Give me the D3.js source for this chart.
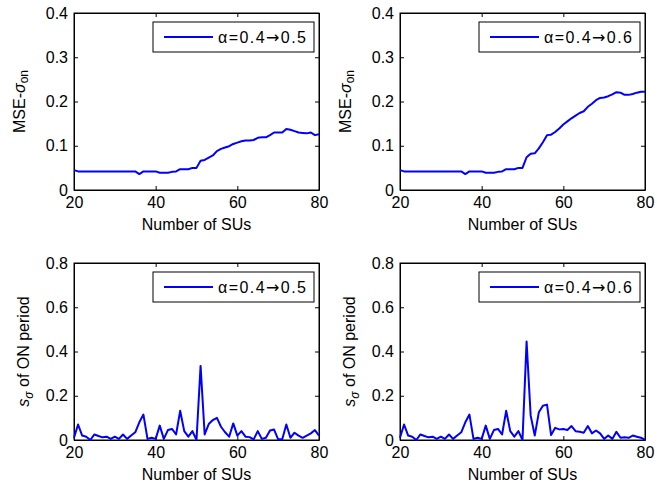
<!DOCTYPE html>
<html>
<head>
<meta charset="utf-8">
<script src="https://cdn.jsdelivr.net/npm/d3@7"></script>
<style>
  body { margin: 0; background: #fff; }
  text { font-family: "Liberation Sans", Arial, sans-serif; fill: #000; }
</style>
</head>
<body>
<div id="chart"></div>
<script>
// Number of SUs (x values)
const suCount = [20,21,22,23,24,25,26,27,28,29,30,31,32,33,34,35,36,37,38,39,40,
  41,42,43,44,45,46,47,48,49,50,51,52,53,54,55,56,57,58,59,60,
  61,62,63,64,65,66,67,68,69,70,71,72,73,74,75,76,77,78,79,80];

// MSE of sigma_on, alpha 0.4 -> 0.5
const mseA = [0.045,0.042,0.042,0.042,0.042,0.042,0.042,0.042,0.042,0.042,0.042,
  0.042,0.042,0.042,0.042,0.042,0.036,0.042,0.042,0.042,0.042,
  0.039,0.039,0.039,0.041,0.042,0.047,0.047,0.047,0.050,0.050,
  0.066,0.068,0.073,0.078,0.088,0.093,0.096,0.099,0.104,0.107,
  0.110,0.112,0.112,0.113,0.118,0.119,0.119,0.124,0.130,0.130,
  0.130,0.138,0.136,0.133,0.130,0.129,0.128,0.130,0.124,0.126];

// MSE of sigma_on, alpha 0.4 -> 0.6
const mseB = [0.045,0.042,0.042,0.042,0.042,0.042,0.042,0.042,0.042,0.042,0.042,
  0.042,0.042,0.042,0.042,0.042,0.036,0.042,0.042,0.042,0.042,
  0.039,0.039,0.039,0.041,0.042,0.047,0.047,0.047,0.050,0.050,
  0.074,0.082,0.083,0.094,0.108,0.124,0.125,0.131,0.139,0.148,
  0.155,0.162,0.168,0.174,0.178,0.188,0.195,0.203,0.208,0.209,
  0.212,0.216,0.221,0.220,0.215,0.215,0.217,0.220,0.222,0.222];

// s_sigma of ON period, alpha 0.4 -> 0.5
const sdA = [0.010,0.070,0.020,0.015,0.000,0.025,0.018,0.012,0.015,0.005,0.015,
  0.005,0.025,0.005,0.020,0.035,0.080,0.115,0.005,0.010,0.005,
  0.065,0.005,0.045,0.050,0.025,0.132,0.040,0.015,0.040,0.000,
  0.335,0.025,0.072,0.090,0.100,0.060,0.035,0.015,0.075,0.020,
  0.040,0.015,0.013,0.003,0.040,0.005,0.010,0.043,0.047,0.003,
  0.003,0.070,0.010,0.033,0.020,0.010,0.020,0.030,0.045,0.020];

// s_sigma of ON period, alpha 0.4 -> 0.6
const sdB = [0.010,0.070,0.020,0.015,0.000,0.025,0.018,0.012,0.015,0.005,0.015,
  0.005,0.025,0.005,0.020,0.035,0.080,0.115,0.005,0.010,0.005,
  0.065,0.005,0.045,0.050,0.025,0.132,0.040,0.015,0.040,0.000,
  0.445,0.110,0.020,0.125,0.155,0.160,0.022,0.055,0.048,0.050,
  0.045,0.063,0.040,0.037,0.033,0.063,0.030,0.043,0.030,0.005,
  0.020,0.005,0.037,0.010,0.012,0.010,0.020,0.015,0.010,0.002];

const xTicks = [20, 40, 60, 80];
const mseTicks = [0, 0.1, 0.2, 0.3, 0.4];
const sdTicks = [0, 0.2, 0.4, 0.6, 0.8];

// legend entries: [from, to]
const legendA = ["0.4", "0.5"];
const legendB = ["0.4", "0.6"];

const W = 657, H = 488;
const pw = 245, ph = 177;

const svg = d3.select("#chart")
  .append("svg")
    .attr("width", W)
    .attr("height", H);

const fmt = d => d === 0 ? "0" : d3.format(".1f")(d);

function panel(left, top, values, yMax, yTicks, legend, yLabel, yLabelX) {
  const g = svg.append("g").attr("transform", `translate(${left},${top})`);

  const x = d3.scaleLinear().domain([20, 80]).range([0, pw]);
  const y = d3.scaleLinear().domain([0, yMax]).range([ph, 0]);

  // bottom axis
  g.append("g")
    .attr("transform", `translate(0,${ph})`)
    .call(d3.axisBottom(x).tickValues(xTicks).tickFormat(d3.format("d"))
      .tickSizeInner(-4).tickSizeOuter(0).tickPadding(7));
  // top axis (ticks only)
  g.append("g")
    .call(d3.axisTop(x).tickValues(xTicks).tickFormat("")
      .tickSizeInner(-4).tickSizeOuter(0));
  // left axis
  g.append("g")
    .call(d3.axisLeft(y).tickValues(yTicks).tickFormat(fmt)
      .tickSizeInner(-4).tickSizeOuter(0).tickPadding(6));
  // right axis (ticks only)
  g.append("g")
    .attr("transform", `translate(${pw},0)`)
    .call(d3.axisRight(y).tickValues(yTicks).tickFormat("")
      .tickSizeInner(-4).tickSizeOuter(0));

  g.selectAll(".tick text")
    .style("font-size", "16px")
    .style("font-family", "'Liberation Sans', Arial, sans-serif");
  g.selectAll(".domain, .tick line").attr("stroke", "#000");

  g.append("rect")
    .attr("width", pw).attr("height", ph)
    .attr("fill", "none").attr("stroke", "#000").attr("stroke-width", 1);

  // data line
  g.append("path")
    .datum(values)
    .attr("fill", "none")
    .attr("stroke", "#0000ff")
    .attr("stroke-width", 2)
    .attr("stroke-linejoin", "round")
    .attr("d", d3.line().x((d, i) => x(suCount[i])).y(d => y(d)));

  // legend
  const lg = g.append("g").attr("transform", "translate(79,9)");
  lg.append("rect")
    .attr("width", 161).attr("height", 30)
    .attr("fill", "#fff").attr("stroke", "#000");
  lg.append("line")
    .attr("x1", 11).attr("x2", 60).attr("y1", 15).attr("y2", 15)
    .attr("stroke", "#0000ff").attr("stroke-width", 2);
  const lt = lg.append("text")
    .attr("x", 65).attr("y", 21)
    .attr("textLength", 88).attr("lengthAdjust", "spacing")
    .style("font-size", "16px");
  lt.append("tspan").text("α=" + legend[0]);
  lt.append("tspan").style("font-family", "'DejaVu Sans', sans-serif")
    .style("font-size", "16px").text("→");
  lt.append("tspan").text(legend[1]);

  // x label
  g.append("text")
    .attr("x", pw / 2).attr("y", ph + 40)
    .attr("text-anchor", "middle")
    .style("font-size", "16px")
    .text("Number of SUs");

  // y label
  const yl = g.append("text")
    .attr("transform", `translate(${yLabelX},${ph / 2}) rotate(-90)`)
    .attr("text-anchor", "middle")
    .style("font-size", "16px");
  yLabel(yl);
}

const mseLabel = t => {
  t.append("tspan").text("MSE-");
  t.append("tspan").style("font-style", "italic").text("σ");
  t.append("tspan").attr("baseline-shift", "-25%").style("font-size", "12px").text("on");
};
const sdLabel = t => {
  t.append("tspan").style("font-style", "italic").text("s");
  t.append("tspan").attr("baseline-shift", "-30%").style("font-size", "12px")
    .style("font-style", "italic").text("σ");
  t.append("tspan").text(" of ON period");
};

panel(74, 13, mseA, 0.4, mseTicks, legendA, mseLabel, -49);
panel(400, 13, mseB, 0.4, mseTicks, legendB, mseLabel, -49);
panel(74, 263, sdA, 0.8, sdTicks, legendA, sdLabel, -45);
panel(400, 263, sdB, 0.8, sdTicks, legendB, sdLabel, -45);
</script>
</body>
</html>
